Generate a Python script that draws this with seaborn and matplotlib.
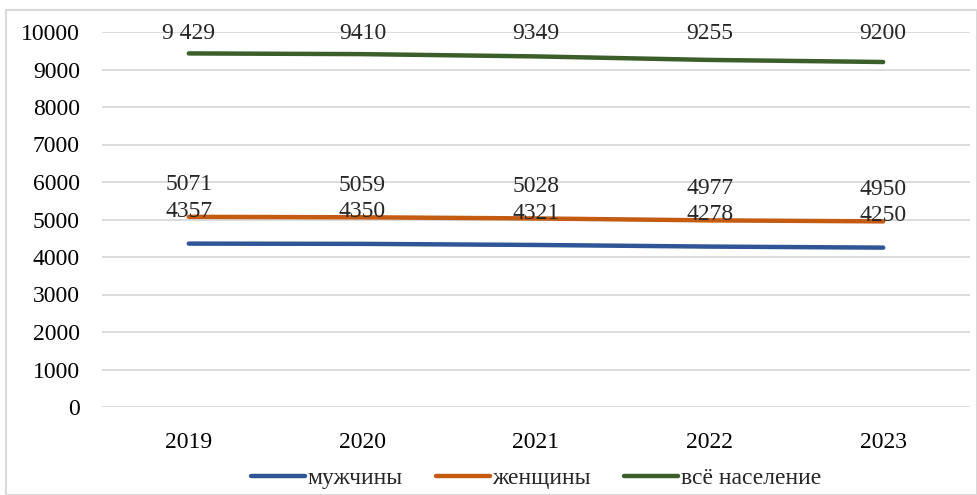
import matplotlib
matplotlib.use("Agg")
import matplotlib.pyplot as plt
import seaborn as sns
import pandas as pd
from matplotlib.patches import Rectangle

years = ["2019", "2020", "2021", "2022", "2023"]
men = [4357, 4350, 4321, 4278, 4250]
women = [5071, 5059, 5028, 4977, 4950]
total = [9429, 9410, 9349, 9255, 9200]
total_labels = ["9 429", "9410", "9349", "9255", "9200"]
series_names = ["мужчины", "женщины", "всё население"]
colors = ["#2F5597", "#C55A11", "#3B5E2B"]

sns.set_theme(style="white")
plt.rcParams["font.family"] = ["Liberation Serif", "DejaVu Serif"]

FS = 17

df = pd.DataFrame({
    "year": years * 3,
    "value": men + women + total,
    "series": [series_names[0]] * 5 + [series_names[1]] * 5 + [series_names[2]] * 5,
})

fig = plt.figure(figsize=(9.77, 4.95), dpi=100)
ax = fig.add_axes([102 / 977, 1 - 407 / 495, 868 / 977, 375 / 495])

sns.lineplot(data=df, x="year", y="value", hue="series", palette=colors,
             linewidth=3.2, ax=ax, sort=False, legend=True)
for ln in ax.lines:
    ln.set_solid_capstyle("round")

ax.set_ylim(0, 10000)
ax.set_xlim(-0.5, 4.5)
ax.set_yticks(range(0, 10001, 1000))
ax.yaxis.grid(True, color="#D9D9D9", linewidth=1.3)
ax.xaxis.grid(False)
for s in ax.spines.values():
    s.set_visible(False)
ax.tick_params(axis="both", length=0, labelsize=FS, colors="black")
ax.tick_params(axis="x", pad=18)
ax.tick_params(axis="y", pad=16)
ax.set_xlabel("")
ax.set_ylabel("")

# data labels
for i in range(5):
    ax.annotate(str(men[i]), (i, men[i]), xytext=(0, 23), textcoords="offset points",
                ha="center", va="center", fontsize=FS)
    ax.annotate(str(women[i]), (i, women[i]), xytext=(0, 23), textcoords="offset points",
                ha="center", va="center", fontsize=FS)
    # top labels are held just below the top of the plot area, as in the original
    ax.annotate(total_labels[i], (i, total[i]), xytext=(i, 0.995),
                textcoords=("data", "axes fraction"),
                ha="center", va="center", fontsize=FS)

handles, labels = ax.get_legend_handles_labels()
leg = ax.legend(handles, labels, loc="center", bbox_to_anchor=(0.5, -0.19),
                bbox_transform=ax.transAxes, ncol=3, frameon=False, fontsize=FS,
                handlelength=2.3, handletextpad=0.1, columnspacing=1.4)
for h in leg.get_lines():
    h.set_linewidth(3.2)

# outer chart border
fig.patches.append(Rectangle((6 / 977, 0), 1 - 6 / 977, 1 - 10 / 495, transform=fig.transFigure,
                             fill=False, edgecolor="#D9D9D9", linewidth=1.5))

fig.savefig("out.png", dpi=100)
